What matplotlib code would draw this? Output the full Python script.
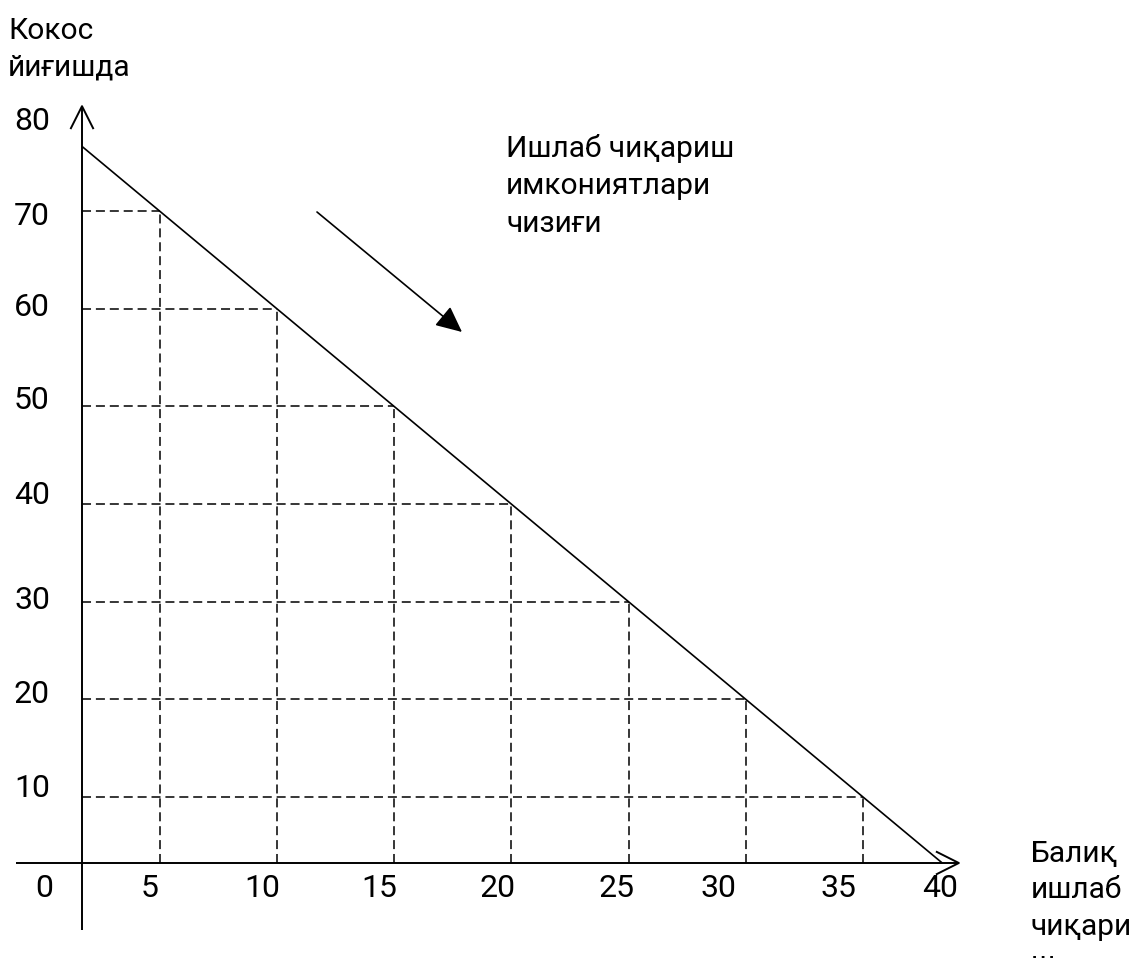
import numpy as np
import matplotlib
matplotlib.use('Agg')
import matplotlib.pyplot as plt
from matplotlib.patches import FancyArrowPatch

plt.rcParams['font.family'] = ['Roboto', 'DejaVu Sans']

# ---- data ----
fish = [5, 10, 15, 20, 25, 30, 35]          # Балиқ ишлаб чиқариш
coconut = [70, 60, 50, 40, 30, 20, 10]      # Кокос йиғишда
ppf_fish = [0, 40]
ppf_coconut = [80, 0]
x_tick_values = [5, 10, 15, 20, 25, 30, 35, 40]
y_tick_values = [80, 70, 60, 50, 40, 30, 20, 10]
y_title = ["Кокос", "йиғишда"]
x_title = ["Балиқ", "ишлаб", "чиқари", "ш"]
curve_label = ["Ишлаб чиқариш", "имкониятлари", "чизиғи"]

# ---- layout / style ----
W, H, DPI = 1142, 958, 100
X0, XS = 42.3, 23.45     # pixel of fish=0, pixels per unit
Y0, YS = 894.7, 9.767    # pixel row of coconut=0, pixels per unit
NUM_FS = 23
TXT_FS = 21.5

def px2x(px):
    return (px - X0) / XS

def py2y(py):
    return (Y0 - py) / YS

fig = plt.figure(figsize=(W / DPI, H / DPI), dpi=DPI)
ax = fig.add_axes([0, 0, 1, 1])
ax.set_axis_off()
ax.set_xlim(px2x(0), px2x(W))
ax.set_ylim(py2y(H), py2y(0))

AX_X = px2x(82)    # where the vertical axis is drawn
AX_Y = py2y(863)   # where the horizontal axis is drawn

# axes with open arrow heads
for (a, b) in [((px2x(16), AX_Y), (px2x(961), AX_Y)),
               ((AX_X, py2y(930)), (AX_X, py2y(104)))]:
    ax.add_patch(FancyArrowPatch(a, b, arrowstyle='->,head_length=16.5,head_width=8.3',
                                 mutation_scale=1, lw=1.4, color='black',
                                 shrinkA=0, shrinkB=0, capstyle='butt'))

# dashed guide lines
for f, c in zip(fish, coconut):
    ax.plot([AX_X, f], [c, c], color='black', lw=1.1, ls=(0, (5.9, 3.2)),
            solid_capstyle='butt', dash_capstyle='butt')
    ax.plot([f, f], [AX_Y, c], color='black', lw=1.1, ls=(0, (5.9, 3.2)),
            solid_capstyle='butt', dash_capstyle='butt')

# production possibilities line, between the two axes
c_start = np.interp(AX_X, ppf_fish, ppf_coconut)
f_end = np.interp(AX_Y, ppf_coconut[::-1], ppf_fish[::-1])
ax.plot([AX_X, f_end], [c_start, AX_Y], color='black', lw=1.2, solid_capstyle='butt')

# pointer arrow
ax.add_patch(FancyArrowPatch((px2x(317), py2y(212)), (px2x(462), py2y(332)),
                             arrowstyle='-|>,head_length=16,head_width=7.5',
                             mutation_scale=1, lw=1.2, color='black',
                             shrinkA=0, shrinkB=0))

# tick labels (hand placed in original)
x_nudge = [-9.6, -14.8, -15, -13.3, -11.6, -27.8, -25, -40]
for v, dx in zip(x_tick_values, x_nudge):
    ax.annotate(str(v), xy=(v, AX_Y), xytext=(dx, -34), textcoords='offset pixels',
                ha='center', va='baseline', fontsize=NUM_FS)
y_nudge = [-16.2, -13.5, -7.8, -3.1, 0.5, -7.8, -4.1, 0.5]
for v, dy in zip(y_tick_values, y_nudge):
    ax.annotate(str(v), xy=(AX_X, v), xytext=(-32, dy), textcoords='offset pixels',
                ha='right', va='baseline', fontsize=NUM_FS)
ax.annotate('0', xy=(AX_X, AX_Y), xytext=(-38, -34), textcoords='offset pixels',
            ha='center', va='baseline', fontsize=NUM_FS)

def fig_lines(lines, x, y0, dy):
    for i, s in enumerate(lines):
        fig.text(x / W, 1 - (y0 + i * dy) / H, s, ha='left', va='baseline',
                 fontsize=TXT_FS)

fig_lines(y_title, 8, 39, 36)
fig_lines(curve_label, 506, 157, 37.5)
fig_lines(x_title, 1031, 862, 36.5)

fig.savefig('out.png', dpi=DPI)
